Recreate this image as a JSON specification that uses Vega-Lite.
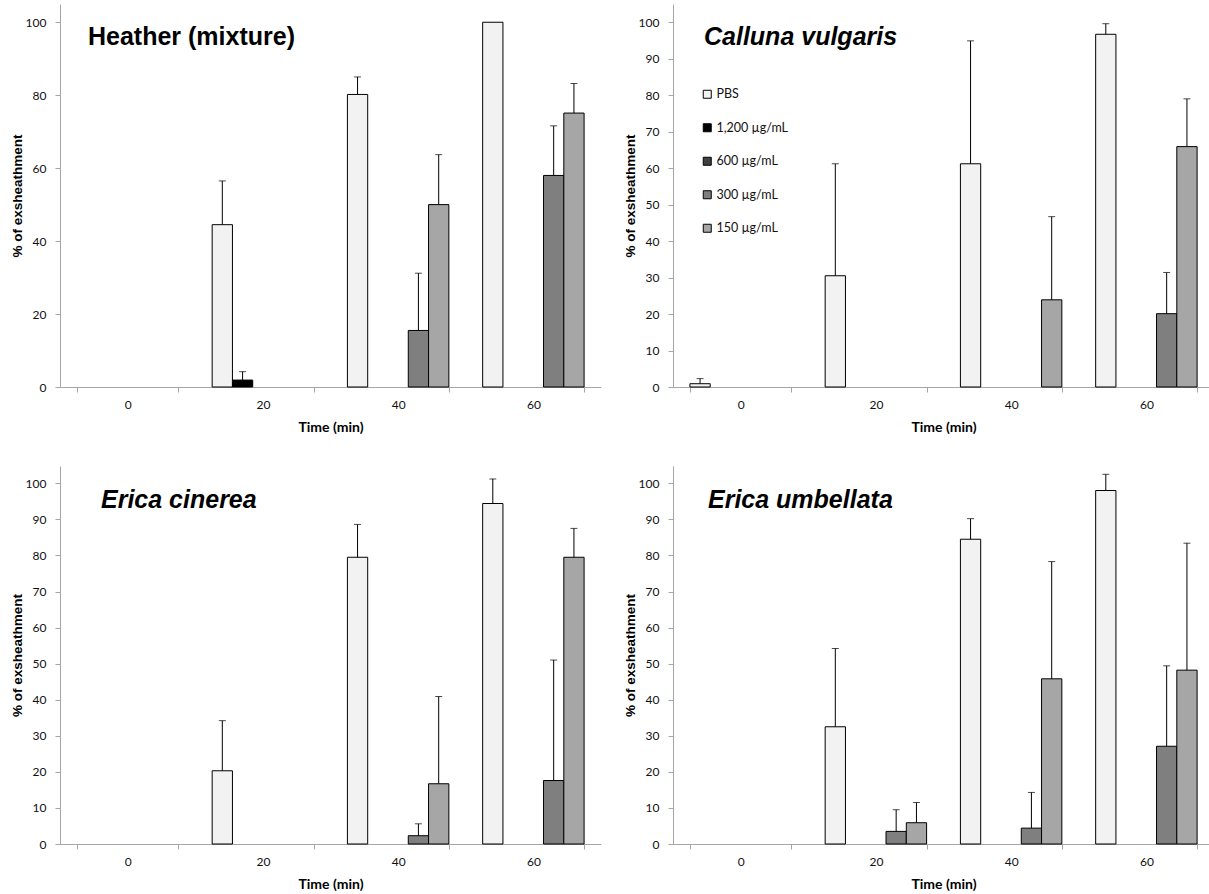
{
  "$schema": "https://vega.github.io/schema/vega-lite/v6.json",
  "padding": {"left": 10, "top": 4, "right": 0, "bottom": 0},
  "background": "white",
  "data": {"values": [
    {"p": "H", "t": 0, "s": "PBS", "v": 0},
    {"p": "H", "t": 0, "s": "1,200 µg/mL", "v": 0},
    {"p": "H", "t": 0, "s": "600 µg/mL", "v": 0},
    {"p": "H", "t": 0, "s": "300 µg/mL", "v": 0},
    {"p": "H", "t": 0, "s": "150 µg/mL", "v": 0},
    {"p": "H", "t": 20, "s": "PBS", "v": 44.5, "hi": 56.5},
    {"p": "H", "t": 20, "s": "1,200 µg/mL", "v": 1.9, "hi": 4.2},
    {"p": "H", "t": 20, "s": "600 µg/mL", "v": 0},
    {"p": "H", "t": 20, "s": "300 µg/mL", "v": 0},
    {"p": "H", "t": 20, "s": "150 µg/mL", "v": 0},
    {"p": "H", "t": 40, "s": "PBS", "v": 80.2, "hi": 85},
    {"p": "H", "t": 40, "s": "1,200 µg/mL", "v": 0},
    {"p": "H", "t": 40, "s": "600 µg/mL", "v": 0},
    {"p": "H", "t": 40, "s": "300 µg/mL", "v": 15.5, "hi": 31.2},
    {"p": "H", "t": 40, "s": "150 µg/mL", "v": 50, "hi": 63.7},
    {"p": "H", "t": 60, "s": "PBS", "v": 100},
    {"p": "H", "t": 60, "s": "1,200 µg/mL", "v": 0},
    {"p": "H", "t": 60, "s": "600 µg/mL", "v": 0},
    {"p": "H", "t": 60, "s": "300 µg/mL", "v": 58, "hi": 71.6},
    {"p": "H", "t": 60, "s": "150 µg/mL", "v": 75.1, "hi": 83.2},

    {"p": "C", "t": 0, "s": "PBS", "v": 0.9, "hi": 2.3},
    {"p": "C", "t": 0, "s": "1,200 µg/mL", "v": 0},
    {"p": "C", "t": 0, "s": "600 µg/mL", "v": 0},
    {"p": "C", "t": 0, "s": "300 µg/mL", "v": 0},
    {"p": "C", "t": 0, "s": "150 µg/mL", "v": 0},
    {"p": "C", "t": 20, "s": "PBS", "v": 30.5, "hi": 61.2},
    {"p": "C", "t": 20, "s": "1,200 µg/mL", "v": 0},
    {"p": "C", "t": 20, "s": "600 µg/mL", "v": 0},
    {"p": "C", "t": 20, "s": "300 µg/mL", "v": 0},
    {"p": "C", "t": 20, "s": "150 µg/mL", "v": 0},
    {"p": "C", "t": 40, "s": "PBS", "v": 61.2, "hi": 94.9},
    {"p": "C", "t": 40, "s": "1,200 µg/mL", "v": 0},
    {"p": "C", "t": 40, "s": "600 µg/mL", "v": 0},
    {"p": "C", "t": 40, "s": "300 µg/mL", "v": 0},
    {"p": "C", "t": 40, "s": "150 µg/mL", "v": 23.9, "hi": 46.7},
    {"p": "C", "t": 60, "s": "PBS", "v": 96.7, "hi": 99.6},
    {"p": "C", "t": 60, "s": "1,200 µg/mL", "v": 0},
    {"p": "C", "t": 60, "s": "600 µg/mL", "v": 0},
    {"p": "C", "t": 60, "s": "300 µg/mL", "v": 20.1, "hi": 31.4},
    {"p": "C", "t": 60, "s": "150 µg/mL", "v": 65.9, "hi": 79},

    {"p": "E", "t": 0, "s": "PBS", "v": 0},
    {"p": "E", "t": 0, "s": "1,200 µg/mL", "v": 0},
    {"p": "E", "t": 0, "s": "600 µg/mL", "v": 0},
    {"p": "E", "t": 0, "s": "300 µg/mL", "v": 0},
    {"p": "E", "t": 0, "s": "150 µg/mL", "v": 0},
    {"p": "E", "t": 20, "s": "PBS", "v": 20.3, "hi": 34.2},
    {"p": "E", "t": 20, "s": "1,200 µg/mL", "v": 0},
    {"p": "E", "t": 20, "s": "600 µg/mL", "v": 0},
    {"p": "E", "t": 20, "s": "300 µg/mL", "v": 0},
    {"p": "E", "t": 20, "s": "150 µg/mL", "v": 0},
    {"p": "E", "t": 40, "s": "PBS", "v": 79.5, "hi": 88.6},
    {"p": "E", "t": 40, "s": "1,200 µg/mL", "v": 0},
    {"p": "E", "t": 40, "s": "600 µg/mL", "v": 0},
    {"p": "E", "t": 40, "s": "300 µg/mL", "v": 2.3, "hi": 5.6},
    {"p": "E", "t": 40, "s": "150 µg/mL", "v": 16.7, "hi": 40.9},
    {"p": "E", "t": 60, "s": "PBS", "v": 94.4, "hi": 101.2},
    {"p": "E", "t": 60, "s": "1,200 µg/mL", "v": 0},
    {"p": "E", "t": 60, "s": "600 µg/mL", "v": 0},
    {"p": "E", "t": 60, "s": "300 µg/mL", "v": 17.6, "hi": 51},
    {"p": "E", "t": 60, "s": "150 µg/mL", "v": 79.5, "hi": 87.5},

    {"p": "U", "t": 0, "s": "PBS", "v": 0},
    {"p": "U", "t": 0, "s": "1,200 µg/mL", "v": 0},
    {"p": "U", "t": 0, "s": "600 µg/mL", "v": 0},
    {"p": "U", "t": 0, "s": "300 µg/mL", "v": 0},
    {"p": "U", "t": 0, "s": "150 µg/mL", "v": 0},
    {"p": "U", "t": 20, "s": "PBS", "v": 32.5, "hi": 54.2},
    {"p": "U", "t": 20, "s": "1,200 µg/mL", "v": 0},
    {"p": "U", "t": 20, "s": "600 µg/mL", "v": 0},
    {"p": "U", "t": 20, "s": "300 µg/mL", "v": 3.5, "hi": 9.5},
    {"p": "U", "t": 20, "s": "150 µg/mL", "v": 5.9, "hi": 11.5},
    {"p": "U", "t": 40, "s": "PBS", "v": 84.5, "hi": 90.2},
    {"p": "U", "t": 40, "s": "1,200 µg/mL", "v": 0},
    {"p": "U", "t": 40, "s": "600 µg/mL", "v": 0},
    {"p": "U", "t": 40, "s": "300 µg/mL", "v": 4.4, "hi": 14.3},
    {"p": "U", "t": 40, "s": "150 µg/mL", "v": 45.8, "hi": 78.3},
    {"p": "U", "t": 60, "s": "PBS", "v": 98, "hi": 102.5},
    {"p": "U", "t": 60, "s": "1,200 µg/mL", "v": 0},
    {"p": "U", "t": 60, "s": "600 µg/mL", "v": 0},
    {"p": "U", "t": 60, "s": "300 µg/mL", "v": 27.1, "hi": 49.4},
    {"p": "U", "t": 60, "s": "150 µg/mL", "v": 48.2, "hi": 83.4}
  ]},
  "columns": 2,
  "spacing": {"row": 32, "column": 22},
  "resolve": {"scale": {"color": "independent", "y": "independent", "x": "independent", "xOffset": "independent"}, "legend": {"color": "independent"}},
  "concat": [
    {
      "width": 541, "height": 383,
      "title": {"text": "Heather (mixture)", "anchor": "start", "frame": "group", "font": "Liberation Sans", "fontSize": 25, "fontWeight": "bold", "color": "#000", "offset": -66, "dx": 28, "baseline": "alphabetic"},
      "transform": [{"filter": "datum.p == 'H'"}],
      "encoding": {
        "x": {"field": "t", "type": "ordinal", "title": "Time (min)", "scale": {"domain": [0, 20, 40, 60], "paddingInner": 0.25, "paddingOuter": 0.125}},
        "xOffset": {"field": "s", "type": "nominal", "scale": {"domain": ["PBS", "1,200 µg/mL", "600 µg/mL", "300 µg/mL", "150 µg/mL"], "paddingInner": 0, "paddingOuter": 0}}
      },
      "layer": [
        {
          "transform": [{"filter": "datum.v > 0"}],
          "mark": {"type": "bar", "stroke": "#000", "strokeWidth": 1},
          "encoding": {
            "y": {"field": "v", "type": "quantitative", "scale": {"domain": [0, 105], "nice": false}, "axis": {"values": [0, 20, 40, 60, 80, 100], "title": "% of exsheathment"}},
            "color": {"field": "s", "type": "nominal", "scale": {"domain": ["PBS", "1,200 µg/mL", "600 µg/mL", "300 µg/mL", "150 µg/mL"], "range": ["#f2f2f2", "#000000", "#404040", "#7f7f7f", "#a6a6a6"]}, "legend": null}
          }
        },
        {
          "transform": [{"filter": "datum.hi > datum.v"}],
          "mark": {"type": "rule", "color": "#000", "strokeWidth": 1},
          "encoding": {"y": {"field": "v", "type": "quantitative", "axis": {"values": [0, 20, 40, 60, 80, 100], "title": "% of exsheathment"}}, "y2": {"field": "hi"}}
        },
        {
          "transform": [{"filter": "datum.hi > datum.v"}],
          "mark": {"type": "tick", "color": "#000", "size": 7, "thickness": 1},
          "encoding": {"y": {"field": "hi", "type": "quantitative", "axis": {"values": [0, 20, 40, 60, 80, 100], "title": "% of exsheathment"}}}
        }
      ]
    },
    {
      "width": 541, "height": 383,
      "title": {"text": "Calluna vulgaris", "anchor": "start", "frame": "group", "font": "Liberation Sans", "fontSize": 25, "fontWeight": "bold", "fontStyle": "italic", "color": "#000", "offset": -66, "dx": 31, "baseline": "alphabetic"},
      "transform": [{"filter": "datum.p == 'C'"}],
      "encoding": {
        "x": {"field": "t", "type": "ordinal", "title": "Time (min)", "scale": {"domain": [0, 20, 40, 60], "paddingInner": 0.25, "paddingOuter": 0.125}},
        "xOffset": {"field": "s", "type": "nominal", "scale": {"domain": ["PBS", "1,200 µg/mL", "600 µg/mL", "300 µg/mL", "150 µg/mL"], "paddingInner": 0, "paddingOuter": 0}}
      },
      "layer": [
        {
          "transform": [{"filter": "datum.v > 0"}],
          "mark": {"type": "bar", "stroke": "#000", "strokeWidth": 1},
          "encoding": {
            "y": {"field": "v", "type": "quantitative", "scale": {"domain": [0, 105], "nice": false}, "axis": {"values": [0, 10, 20, 30, 40, 50, 60, 70, 80, 90, 100], "title": "% of exsheathment"}},
            "color": {"field": "s", "type": "nominal", "scale": {"domain": ["PBS", "1,200 µg/mL", "600 µg/mL", "300 µg/mL", "150 µg/mL"], "range": ["#f2f2f2", "#000000", "#404040", "#7f7f7f", "#a6a6a6"]},
              "legend": {"orient": "none", "legendX": 28, "legendY": 84, "title": null, "symbolType": "square", "symbolSize": 64, "symbolStrokeColor": "#000", "symbolStrokeWidth": 1, "labelFont": "Lato", "labelFontSize": 12.5, "labelColor": "#111", "rowPadding": 20.5, "labelOffset": 3}}
          }
        },
        {
          "transform": [{"filter": "datum.hi > datum.v"}],
          "mark": {"type": "rule", "color": "#000", "strokeWidth": 1},
          "encoding": {"y": {"field": "v", "type": "quantitative", "axis": {"values": [0, 10, 20, 30, 40, 50, 60, 70, 80, 90, 100], "title": "% of exsheathment"}}, "y2": {"field": "hi"}}
        },
        {
          "transform": [{"filter": "datum.hi > datum.v"}],
          "mark": {"type": "tick", "color": "#000", "size": 7, "thickness": 1},
          "encoding": {"y": {"field": "hi", "type": "quantitative", "axis": {"values": [0, 10, 20, 30, 40, 50, 60, 70, 80, 90, 100], "title": "% of exsheathment"}}}
        }
      ]
    },
    {
      "width": 541, "height": 378,
      "title": {"text": "Erica cinerea", "anchor": "start", "frame": "group", "font": "Liberation Sans", "fontSize": 25, "fontWeight": "bold", "fontStyle": "italic", "color": "#000", "offset": -67, "dx": 41, "baseline": "alphabetic"},
      "transform": [{"filter": "datum.p == 'E'"}],
      "encoding": {
        "x": {"field": "t", "type": "ordinal", "title": "Time (min)", "scale": {"domain": [0, 20, 40, 60], "paddingInner": 0.25, "paddingOuter": 0.125}},
        "xOffset": {"field": "s", "type": "nominal", "scale": {"domain": ["PBS", "1,200 µg/mL", "600 µg/mL", "300 µg/mL", "150 µg/mL"], "paddingInner": 0, "paddingOuter": 0}}
      },
      "layer": [
        {
          "transform": [{"filter": "datum.v > 0"}],
          "mark": {"type": "bar", "stroke": "#000", "strokeWidth": 1},
          "encoding": {
            "y": {"field": "v", "type": "quantitative", "scale": {"domain": [0, 104.8], "nice": false}, "axis": {"values": [0, 10, 20, 30, 40, 50, 60, 70, 80, 90, 100], "title": "% of exsheathment"}},
            "color": {"field": "s", "type": "nominal", "scale": {"domain": ["PBS", "1,200 µg/mL", "600 µg/mL", "300 µg/mL", "150 µg/mL"], "range": ["#f2f2f2", "#000000", "#404040", "#7f7f7f", "#a6a6a6"]}, "legend": null}
          }
        },
        {
          "transform": [{"filter": "datum.hi > datum.v"}],
          "mark": {"type": "rule", "color": "#000", "strokeWidth": 1},
          "encoding": {"y": {"field": "v", "type": "quantitative", "axis": {"values": [0, 10, 20, 30, 40, 50, 60, 70, 80, 90, 100], "title": "% of exsheathment"}}, "y2": {"field": "hi"}}
        },
        {
          "transform": [{"filter": "datum.hi > datum.v"}],
          "mark": {"type": "tick", "color": "#000", "size": 7, "thickness": 1},
          "encoding": {"y": {"field": "hi", "type": "quantitative", "axis": {"values": [0, 10, 20, 30, 40, 50, 60, 70, 80, 90, 100], "title": "% of exsheathment"}}}
        }
      ]
    },
    {
      "width": 541, "height": 378,
      "title": {"text": "Erica umbellata", "anchor": "start", "frame": "group", "font": "Liberation Sans", "fontSize": 25, "fontWeight": "bold", "fontStyle": "italic", "color": "#000", "offset": -67, "dx": 35, "baseline": "alphabetic"},
      "transform": [{"filter": "datum.p == 'U'"}],
      "encoding": {
        "x": {"field": "t", "type": "ordinal", "title": "Time (min)", "scale": {"domain": [0, 20, 40, 60], "paddingInner": 0.25, "paddingOuter": 0.125}},
        "xOffset": {"field": "s", "type": "nominal", "scale": {"domain": ["PBS", "1,200 µg/mL", "600 µg/mL", "300 µg/mL", "150 µg/mL"], "paddingInner": 0, "paddingOuter": 0}}
      },
      "layer": [
        {
          "transform": [{"filter": "datum.v > 0"}],
          "mark": {"type": "bar", "stroke": "#000", "strokeWidth": 1},
          "encoding": {
            "y": {"field": "v", "type": "quantitative", "scale": {"domain": [0, 104.8], "nice": false}, "axis": {"values": [0, 10, 20, 30, 40, 50, 60, 70, 80, 90, 100], "title": "% of exsheathment"}},
            "color": {"field": "s", "type": "nominal", "scale": {"domain": ["PBS", "1,200 µg/mL", "600 µg/mL", "300 µg/mL", "150 µg/mL"], "range": ["#f2f2f2", "#000000", "#404040", "#7f7f7f", "#a6a6a6"]}, "legend": null}
          }
        },
        {
          "transform": [{"filter": "datum.hi > datum.v"}],
          "mark": {"type": "rule", "color": "#000", "strokeWidth": 1},
          "encoding": {"y": {"field": "v", "type": "quantitative", "axis": {"values": [0, 10, 20, 30, 40, 50, 60, 70, 80, 90, 100], "title": "% of exsheathment"}}, "y2": {"field": "hi"}}
        },
        {
          "transform": [{"filter": "datum.hi > datum.v"}],
          "mark": {"type": "tick", "color": "#000", "size": 7, "thickness": 1},
          "encoding": {"y": {"field": "hi", "type": "quantitative", "axis": {"values": [0, 10, 20, 30, 40, 50, 60, 70, 80, 90, 100], "title": "% of exsheathment"}}}
        }
      ]
    }
  ],
  "config": {
    "view": {"stroke": null},
    "axis": {"grid": false, "domainColor": "#a6a6a6", "tickColor": "#a6a6a6", "tickSize": 5, "labelFont": "Lato", "labelFontSize": 12, "labelColor": "#111", "titleColor": "#000"},
    "axisY": {"labelPadding": 9, "titleFont": "Liberation Sans", "titleFontSize": 13.5, "titleFontWeight": "bold", "titlePadding": 1},
    "axisX": {"labelPadding": 7, "labelAngle": 0, "labelBaseline": "top", "titleFont": "Lato", "titleFontSize": 14, "titleFontWeight": "bold", "titlePadding": 10, "tickBand": "extent"}
  }
}
